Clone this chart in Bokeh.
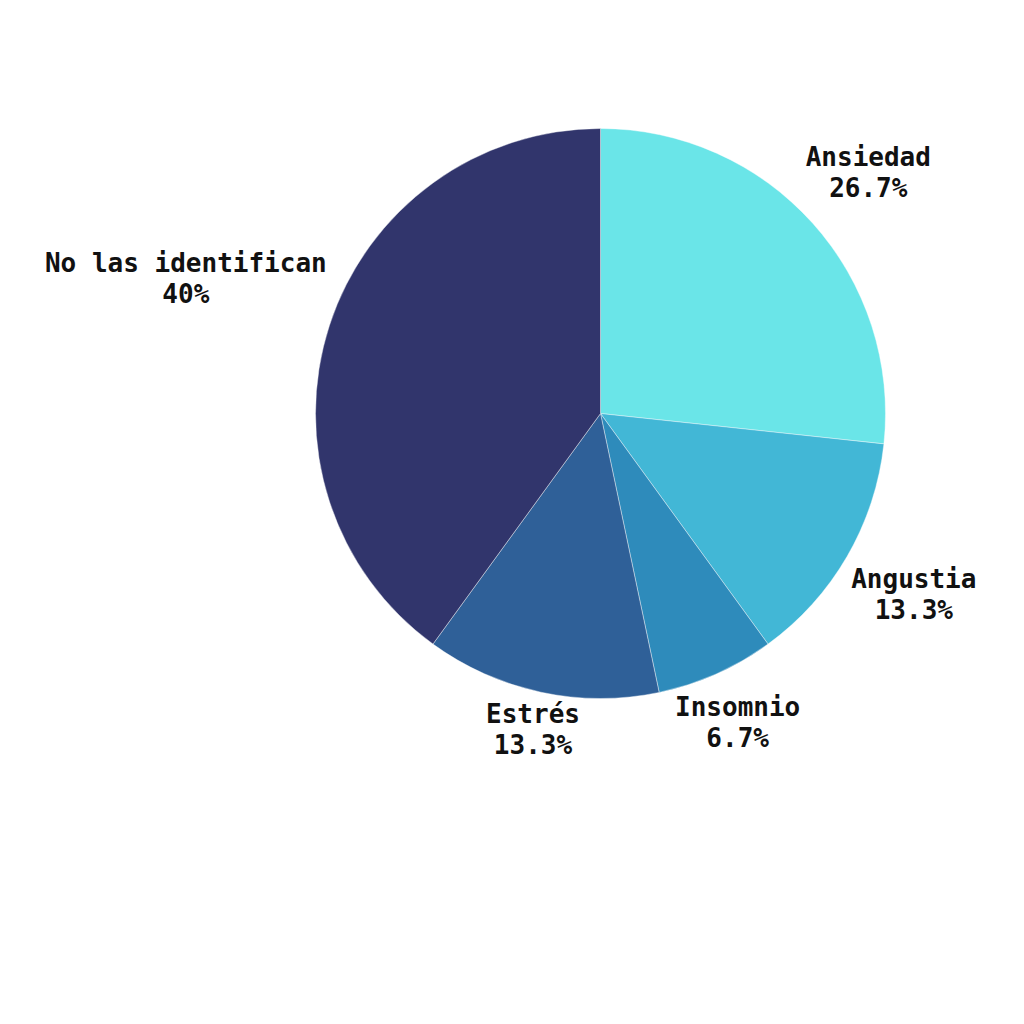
import math
from bokeh.plotting import figure
from bokeh.models import Range1d, ColumnDataSource
from bokeh.core.properties import value
from bokeh.embed import file_html
from bokeh.resources import INLINE

categories = ["Ansiedad", "Angustia", "Insomnio", "Estrés", "No las identifican"]
percent = [26.7, 13.3, 6.7, 13.3, 40.0]
pct_labels = ["26.7%", "13.3%", "6.7%", "13.3%", "40%"]
colors = ["#6AE5E8", "#42B7D6", "#2E8BBB", "#2F6098", "#31356C"]
label_dist = [360, 362, 338, 323, 436]

W = H = 1008
cx, cy, R = 600, -413, 285

p = figure(width=W, height=H, output_backend="svg", toolbar_location=None,
           x_range=Range1d(0, W), y_range=Range1d(-H, 0), min_border=0)
p.axis.visible = False
p.grid.visible = False
p.outline_line_color = None
p.background_fill_color = "white"

total = sum(percent)
starts, ends, lx, ly, texts = [], [], [], [], []
a = math.pi / 2
for i, v in enumerate(percent):
    sweep = v / total * 2 * math.pi
    s, e = a - sweep, a
    starts.append(s)
    ends.append(e)
    mid = (s + e) / 2
    lx.append(cx + label_dist[i] * math.cos(mid))
    ly.append(cy + label_dist[i] * math.sin(mid))
    texts.append(categories[i] + "\n" + pct_labels[i])
    a = s

src = ColumnDataSource(dict(start=starts, end=ends, color=colors))
p.wedge(x=cx, y=cy, radius=R, start_angle="start", end_angle="end",
        fill_color="color", line_color="white", line_width=0.4, source=src)

p.text(x=lx, y=ly, text=texts, text_align="center", text_baseline="middle",
       text_font=value("DejaVu Sans Mono"), text_font_style="bold",
       text_font_size="26px", text_color="#111111", text_line_height=1.04)

open("out.html", "w").write(file_html(p, INLINE))
